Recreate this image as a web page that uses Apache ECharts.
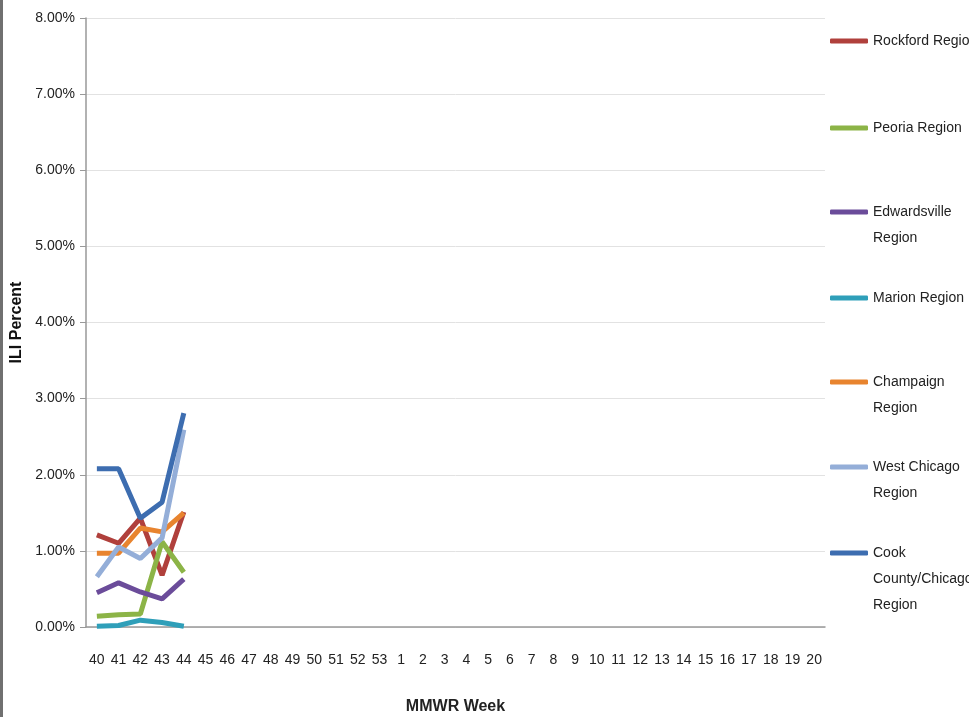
<!DOCTYPE html>
<html>
<head>
<meta charset="utf-8">
<script src="https://cdn.jsdelivr.net/npm/echarts@6/dist/echarts.min.js"></script>
<style>
    html, body { margin: 0; padding: 0; background: #fff; }
    body { border-left: 3px solid #707070; box-sizing: border-box; width: 969px; height: 717px; }
    #chart { width: 966px; height: 717px; }
</style>
</head>
<body>
<div id="chart"></div>
<script>
// MMWR weeks, season 40 -> 20
var weeks = ['40', '41', '42', '43', '44', '45', '46', '47', '48', '49', '50', '51', '52', '53',
    '1', '2', '3', '4', '5', '6', '7', '8', '9', '10', '11', '12', '13', '14', '15', '16', '17', '18', '19', '20'];
var yTicks = [0, 1, 2, 3, 4, 5, 6, 7, 8];

// ILI percent by region (only weeks 40-44 reported)
var rockford = [1.21, 1.10, 1.43, 0.68, 1.51];
var peoria = [0.14, 0.16, 0.17, 1.12, 0.72];
var edwardsville = [0.45, 0.58, 0.46, 0.37, 0.63];
var marion = [0.01, 0.02, 0.09, 0.06, 0.01];
var champaign = [0.97, 0.97, 1.30, 1.25, 1.50];
var westChicago = [0.66, 1.05, 0.90, 1.17, 2.59];
var cookCounty = [2.08, 2.08, 1.43, 1.64, 2.81];

var regionNames = ['Rockford Region', 'Peoria Region', 'Edwardsville Region', 'Marion Region',
    'Champaign Region', 'West Chicago Region', 'Cook County/Chicago Region'];
var legendLabels = ['Rockford Region', 'Peoria Region', 'Edwardsville\nRegion', 'Marion Region',
    'Champaign\nRegion', 'West Chicago\nRegion', 'Cook\nCounty/Chicago\nRegion'];
var regionData = [rockford, peoria, edwardsville, marion, champaign, westChicago, cookCounty];
var colors = ['#b0403c', '#8cb447', '#6b4c9a', '#2f9fb9', '#e8842f', '#94aed8', '#3d6db0'];

var font = "'Liberation Sans', Arial, sans-serif";
var chart = echarts.init(document.getElementById('chart'));

// one legend per region, icon lined up with the first text line
var legendTops = [40, 127, 211, 297, 381, 466, 552];
var legends = regionNames.map(function (name, i) {
    var lines = legendLabels[i].split('\n');
    var pad = [];
    for (var k = 1; k < lines.length; k++) pad.push(' ');
    var label = pad.concat(lines).join('\n');
    var total = pad.length + lines.length;
    return {
        data: [name],
        left: 827,
        top: legendTops[i] - 12 - total * 13 + 13,
        padding: 0,
        orient: 'vertical',
        icon: 'roundRect',
        itemWidth: 38,
        itemHeight: 5,
        selectedMode: false,
        formatter: function () { return label; },
        textStyle: {
            fontFamily: font,
            fontSize: 14,
            color: '#222',
            lineHeight: 26
        }
    };
});

chart.setOption({
    animation: false,
    color: colors,
    legend: legends,
    grid: { left: 83, right: 144, top: 18, bottom: 90, outerBoundsMode: 'none', containLabel: false },
    xAxis: {
        type: 'category',
        data: weeks,
        boundaryGap: true,
        name: 'MMWR Week',
        nameLocation: 'middle',
        nameGap: 72,
        nameTextStyle: { fontFamily: font, fontWeight: 'bold', fontSize: 16, color: '#222' },
        axisLine: { lineStyle: { color: '#999', width: 1.5 } },
        axisTick: { alignWithLabel: false, length: 6, lineStyle: { color: '#999' } },
        axisLabel: { interval: 0, margin: 26, fontFamily: font, fontSize: 14, color: '#222' }
    },
    yAxis: {
        type: 'value',
        min: 0,
        max: 8,
        interval: 1,
        name: 'ILI Percent',
        nameLocation: 'middle',
        nameGap: 55,
        nameTextStyle: { fontFamily: font, fontWeight: 'bold', fontSize: 16, color: '#111' },
        axisLine: { show: true, lineStyle: { color: '#999', width: 1.5 } },
        axisTick: { show: true, inside: false, length: 6, lineStyle: { color: '#999' } },
        splitLine: { lineStyle: { color: '#e2e2e2', width: 1 } },
        axisLabel: {
            margin: 11,
            fontFamily: font,
            fontSize: 14,
            color: '#222',
            formatter: function (v) { return v.toFixed(2) + '%'; }
        }
    },
    series: regionNames.map(function (name, i) {
        return {
            name: name,
            type: 'line',
            data: regionData[i],
            showSymbol: false,
            symbol: 'none',
            lineStyle: { width: 5, color: colors[i] },
            itemStyle: { color: colors[i] }
        };
    })
});
</script>
</body>
</html>
